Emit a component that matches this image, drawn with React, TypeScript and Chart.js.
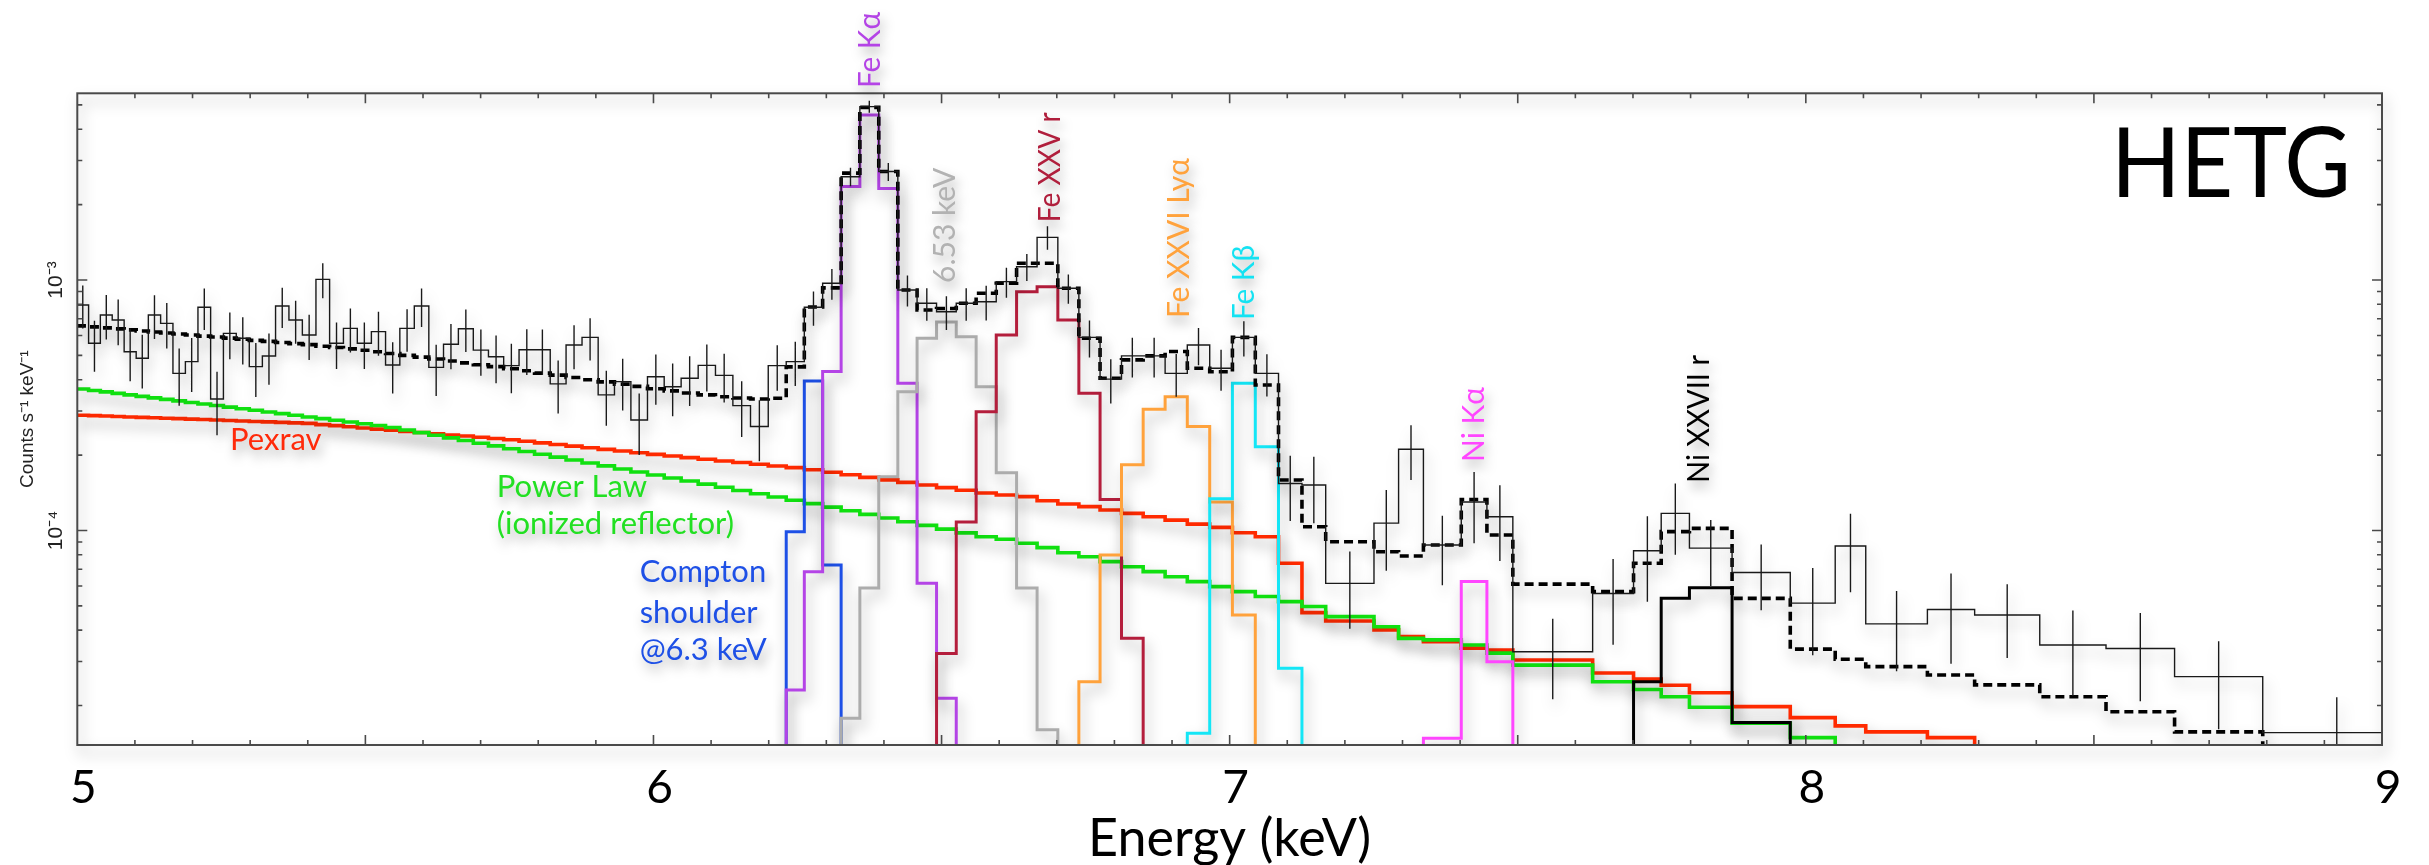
import React, { useEffect, useRef } from 'react';
import { Chart, registerables } from 'chart.js';

Chart.register(...registerables);

// ---------------- data ----------------
// bin edges in keV (HETG grid, 0.01 A below 7.13 keV, grouped above)
const binEdges = [
  4.9994, 5.0196, 5.04, 5.0606, 5.0813, 5.1022, 5.1233, 5.1446, 5.166, 5.1876,
  5.2094, 5.2314, 5.2536, 5.2759, 5.2985, 5.3212, 5.3441, 5.3673, 5.3906, 5.4142,
  5.4379, 5.4619, 5.486, 5.5104, 5.535, 5.5598, 5.5849, 5.6101, 5.6356, 5.6614,
  5.6873, 5.7136, 5.74, 5.7667, 5.7936, 5.8208, 5.8483, 5.876, 5.904, 5.9323,
  5.9608, 5.9896, 6.0186, 6.048, 6.0776, 6.1076, 6.1378, 6.1684, 6.1992, 6.2304,
  6.2618, 6.2936, 6.3257, 6.3582, 6.391, 6.4241, 6.4575, 6.4913, 6.5255, 6.56,
  6.5949, 6.6302, 6.6658, 6.7018, 6.7383, 6.7751, 6.8123, 6.8499, 6.888, 6.9265,
  6.9654, 7.0048, 7.0445, 7.0848, 7.1255, 7.1667, 7.2505, 7.2932, 7.3363, 7.402,
  7.4465, 7.4915, 7.63, 7.701, 7.749, 7.798, 7.872, 7.973, 8.051, 8.104,
  8.211, 8.293, 8.406, 8.521, 8.64, 8.793, 9.05,
];

// observed counts s^-1 keV^-1 per bin
const dataRate = [
  7.95e-4, 5.59e-4, 7.25e-4, 6.92e-4, 5.17e-4, 4.87e-4, 7.25e-4, 6.71e-4, 4.24e-4, 4.72e-4,
  7.78e-4, 3.35e-4, 6.12e-4, 5.85e-4, 4.51e-4, 4.97e-4, 7.87e-4, 6.92e-4, 6.03e-4, 1.006e-3,
  5.59e-4, 6.41e-4, 5.59e-4, 6.22e-4, 4.58e-4, 6.41e-4, 7.87e-4, 4.48e-4, 5.54e-4, 6.39e-4,
  5.25e-4, 4.94e-4, 4.55e-4, 5.27e-4, 5.27e-4, 3.85e-4, 5.5e-4, 5.9e-4, 3.48e-4, 3.93e-4,
  2.76e-4, 4.11e-4, 3.75e-4, 4.05e-4, 4.56e-4, 4.16e-4, 3.15e-4, 2.6e-4, 4.55e-4, 4.72e-4,
  7.78e-4, 9.7e-4, 2.585e-3, 4.92e-3, 2.71e-3, 9.12e-4, 8.07e-4, 7.47e-4, 8.07e-4, 8.19e-4,
  9.85e-4, 1.13e-3, 1.48e-3, 9.27e-4, 5.9e-4, 4.02e-4, 4.98e-4, 4.98e-4, 4.24e-4, 5.5e-4,
  4.44e-4, 5.9e-4, 4.24e-4, 1.54e-4, 1.52e-4, 6.15e-5, 1.07e-4, 2.11e-4, 8.75e-5, 1.3e-4,
  1.135e-4, 3.28e-5, 5.6e-5, 8.3e-5, 1.17e-4, 8.5e-5, 6.8e-5, 5.13e-5, 8.67e-5, 4.24e-5,
  4.84e-5, 4.6e-5, 3.49e-5, 3.38e-5, 2.61e-5, 1.56e-5,
];

// 1-sigma error per bin
const dataErr = [
  1.55e-4, 1.29e-4, 1.46e-4, 1.43e-4, 1.23e-4, 1.18e-4, 1.44e-4, 1.38e-4, 1.09e-4, 1.15e-4,
  1.46e-4, 9.5e-5, 1.29e-4, 1.25e-4, 1.1e-4, 1.15e-4, 1.44e-4, 1.35e-4, 1.24e-4, 1.61e-4,
  1.18e-4, 1.28e-4, 1.18e-4, 1.24e-4, 1.06e-4, 1.24e-4, 1.38e-4, 1.04e-4, 1.14e-4, 1.23e-4,
  1.1e-4, 1.07e-4, 1.02e-4, 1.09e-4, 1.08e-4, 9.2e-5, 1.1e-4, 1.13e-4, 8.6e-5, 9.2e-5,
  7.6e-5, 9.3e-5, 8.9e-5, 9.1e-5, 9.7e-5, 9.2e-5, 7.9e-5, 7.1e-5, 9.4e-5, 9.5e-5,
  1.22e-4, 1.36e-4, 2.2e-4, 2.7e-4, 2.23e-4, 1.29e-4, 1.2e-4, 1.15e-4, 1.2e-4, 1.3e-4,
  1.35e-4, 1.39e-4, 1.58e-4, 1.24e-4, 9.9e-5, 8.1e-5, 9.0e-5, 9.0e-5, 8.2e-5, 9.3e-5,
  8.3e-5, 9.5e-5, 8.1e-5, 4.5e-5, 4.5e-5, 2.1e-5, 3.8e-5, 5.2e-5, 2.7e-5, 4.1e-5,
  3.8e-5, 1.16e-5, 2.1e-5, 3.1e-5, 3.7e-5, 2.5e-5, 2.0e-5, 1.95e-5, 3.0e-5, 1.5e-5,
  1.9e-5, 1.5e-5, 1.3e-5, 1.3e-5, 1.0e-5, 6e-6,
];

// total model (dashed)
const modelTotal = [
  6.56e-4, 6.5e-4, 6.44e-4, 6.38e-4, 6.32e-4, 6.26e-4, 6.2e-4, 6.14e-4, 6.09e-4, 6.03e-4,
  5.97e-4, 5.92e-4, 5.86e-4, 5.8e-4, 5.74e-4, 5.69e-4, 5.63e-4, 5.57e-4, 5.52e-4, 5.44e-4,
  5.38e-4, 5.31e-4, 5.24e-4, 5.17e-4, 5.09e-4, 5.0e-4, 4.92e-4, 4.84e-4, 4.75e-4, 4.67e-4,
  4.59e-4, 4.51e-4, 4.42e-4, 4.34e-4, 4.25e-4, 4.17e-4, 4.08e-4, 4.0e-4, 3.92e-4, 3.84e-4,
  3.76e-4, 3.68e-4, 3.61e-4, 3.54e-4, 3.48e-4, 3.42e-4, 3.38e-4, 3.35e-4, 3.37e-4, 4.5e-4,
  7.8e-4, 9.3e-4, 2.67e-3, 4.89e-3, 2.71e-3, 9.12e-4, 7.59e-4, 7.7e-4, 8.07e-4, 8.85e-4,
  9.7e-4, 1.166e-3, 1.166e-3, 9.27e-4, 5.85e-4, 4.05e-4, 4.8e-4, 4.98e-4, 5.18e-4, 4.44e-4,
  4.3e-4, 5.9e-4, 3.81e-4, 1.59e-4, 1.035e-4, 9.02e-5, 8.23e-5, 7.91e-5, 8.75e-5, 1.33e-4,
  9.6e-5, 6.11e-5, 5.7e-5, 7.4e-5, 9.9e-5, 1.02e-4, 5.36e-5, 3.36e-5, 3.06e-5, 2.86e-5,
  2.65e-5, 2.42e-5, 2.17e-5, 1.89e-5, 1.57e-5,
];

// Pexrav continuum (red)
const pexrav = [
  2.885e-4, 2.874e-4, 2.863e-4, 2.851e-4, 2.84e-4, 2.829e-4, 2.818e-4, 2.806e-4, 2.795e-4, 2.783e-4,
  2.772e-4, 2.761e-4, 2.749e-4, 2.737e-4, 2.725e-4, 2.713e-4, 2.702e-4, 2.689e-4, 2.677e-4, 2.647e-4,
  2.621e-4, 2.594e-4, 2.567e-4, 2.54e-4, 2.514e-4, 2.487e-4, 2.461e-4, 2.434e-4, 2.407e-4, 2.382e-4,
  2.355e-4, 2.329e-4, 2.302e-4, 2.27e-4, 2.237e-4, 2.204e-4, 2.172e-4, 2.14e-4, 2.108e-4, 2.076e-4,
  2.044e-4, 2.013e-4, 1.982e-4, 1.953e-4, 1.924e-4, 1.895e-4, 1.867e-4, 1.838e-4, 1.81e-4, 1.782e-4,
  1.748e-4, 1.708e-4, 1.669e-4, 1.63e-4, 1.592e-4, 1.556e-4, 1.519e-4, 1.483e-4, 1.447e-4, 1.411e-4,
  1.386e-4, 1.365e-4, 1.315e-4, 1.275e-4, 1.245e-4, 1.207e-4, 1.17e-4, 1.135e-4, 1.1e-4, 1.06e-4,
  1.029e-4, 9.8e-5, 9.44e-5, 7.4e-5, 4.7e-5, 4.35e-5, 4.01e-5, 3.77e-5, 3.6e-5, 3.39e-5,
  3.33e-5, 3.04e-5, 2.7e-5, 2.55e-5, 2.41e-5, 2.25e-5, 1.98e-5, 1.79e-5, 1.66e-5, 1.57e-5,
  1.49e-5,
];

// Power law, ionized reflector (green)
const powerLaw = [
  3.672e-4, 3.623e-4, 3.575e-4, 3.527e-4, 3.479e-4, 3.431e-4, 3.384e-4, 3.338e-4, 3.291e-4, 3.245e-4,
  3.199e-4, 3.154e-4, 3.108e-4, 3.063e-4, 3.018e-4, 2.973e-4, 2.929e-4, 2.885e-4, 2.84e-4, 2.797e-4,
  2.754e-4, 2.711e-4, 2.669e-4, 2.626e-4, 2.578e-4, 2.517e-4, 2.459e-4, 2.401e-4, 2.343e-4, 2.287e-4,
  2.23e-4, 2.176e-4, 2.121e-4, 2.067e-4, 2.014e-4, 1.962e-4, 1.911e-4, 1.86e-4, 1.811e-4, 1.761e-4,
  1.713e-4, 1.666e-4, 1.62e-4, 1.575e-4, 1.531e-4, 1.487e-4, 1.444e-4, 1.402e-4, 1.361e-4, 1.32e-4,
  1.28e-4, 1.239e-4, 1.199e-4, 1.16e-4, 1.122e-4, 1.084e-4, 1.048e-4, 1.013e-4, 9.78e-5, 9.44e-5,
  9.22e-5, 8.89e-5, 8.54e-5, 8.15e-5, 7.86e-5, 7.51e-5, 7.17e-5, 6.85e-5, 6.54e-5, 6.25e-5,
  5.97e-5, 5.7e-5, 5.45e-5, 5.2e-5, 4.97e-5, 4.53e-5, 4.13e-5, 3.71e-5, 3.66e-5, 3.49e-5,
  3.24e-5, 2.9e-5, 2.49e-5, 2.32e-5, 2.17e-5, 1.97e-5, 1.7e-5, 1.49e-5,
];

// emission-line components: first bin index + values
const comptonStart = 49;
const comptonShoulder = [9.89e-5, 3.95e-4, 7.28e-5];
const feKaStart = 49;
const feKa = [2.31e-5, 6.85e-5, 4.31e-4, 2.36e-3, 4.56e-3, 2.32e-3, 3.87e-4, 6.15e-5, 2.14e-5];
const line653Start = 52;
const line653 = [1.78e-5, 5.9e-5, 1.64e-4, 3.58e-4, 5.85e-4, 6.8e-4, 5.94e-4, 3.75e-4, 1.7e-4, 5.9e-5, 1.6e-5];
const feXXVStart = 57;
const feXXV = [3.23e-5, 1.08e-4, 2.98e-4, 6.03e-4, 8.98e-4, 9.4e-4, 6.92e-4, 3.53e-4, 1.33e-4, 3.71e-5];
const feXXVIStart = 64;
const feXXVI = [2.49e-5, 7.98e-5, 1.83e-4, 3.05e-4, 3.42e-4, 2.6e-4, 1.3e-4, 4.6e-5];
const feKbStart = 69;
const feKb = [1.55e-5, 1.34e-4, 3.87e-4, 2.16e-4, 2.82e-5];
const niKaStart = 78;
const niKa = [1.48e-5, 6.25e-5, 2.99e-5];
const niXXVIIStart = 83;
const niXXVII = [2.49e-5, 5.36e-5, 5.91e-5, 1.71e-5];

const xTickValues = [5, 6, 7, 8, 9];
const xTickLabels = ['5', '6', '7', '8', '9'];
const yTickValues = [1e-4, 1e-3];
const yTickLabels = ['10\u207B\u2074', '10\u207B\u00B3'];

// ---------------- annotations ----------------
const rotatedLabels = [
  { text: 'Fe K\u03B1', x: 6.376, y: 5.84e-3, color: '#b444e6', width: 76 },
  { text: '6.53 keV', x: 6.506, y: 9.73e-4, color: '#b2b2b2', width: 116 },
  { text: 'Fe XXV r', x: 6.688, y: 1.7e-3, color: '#b01e3c', width: 110 },
  { text: 'Fe XXVI Ly\u03B1', x: 6.912, y: 7.05e-4, color: '#ffa23c', width: 160 },
  { text: 'Fe K\u03B2', x: 7.026, y: 6.92e-4, color: '#14e2f2', width: 75 },
  { text: 'Ni K\u03B1', x: 7.424, y: 1.877e-4, color: '#ff46ff', width: 75 },
  { text: 'Ni XXVII r', x: 7.816, y: 1.547e-4, color: '#000000', width: 128 },
];
const flatLabels = [
  { text: 'Pexrav', x: 5.265, y: 2.1e-4, color: '#ff2a0a' },
  { text: 'Power Law', x: 5.728, y: 1.36e-4, color: '#22e022' },
  { text: '(ionized reflector)', x: 5.728, y: 9.68e-5, color: '#22e022' },
  { text: 'Compton', x: 5.976, y: 6.23e-5, color: '#1e50e6' },
  { text: 'shoulder', x: 5.976, y: 4.27e-5, color: '#1e50e6' },
  { text: '@6.3 keV', x: 5.976, y: 3.04e-5, color: '#1e50e6' },
];

const FLOOR = 1e-8;
type Pt = { x: number; y: number | null };

function histogram(vals: number[], start: number, rise: boolean, drop: boolean): Pt[] {
  const pts: Pt[] = [];
  if (rise) pts.push({ x: binEdges[start], y: FLOOR });
  vals.forEach((v, i) => pts.push({ x: binEdges[start + i], y: v }));
  pts.push({ x: binEdges[start + vals.length], y: drop ? FLOOR : vals[vals.length - 1] });
  return pts;
}

function errorBars(): Pt[] {
  const pts: Pt[] = [];
  dataRate.forEach((v, i) => {
    const c = (binEdges[i] + binEdges[i + 1]) / 2;
    pts.push({ x: c, y: v - dataErr[i] }, { x: c, y: v + dataErr[i] }, { x: c, y: null });
  });
  return pts;
}

const SHADOW = 'rgba(0,0,0,0.34)';

const shadowPlugin = {
  id: 'softShadow',
  beforeDatasetsDraw(chart: any) {
    const ctx = chart.ctx;
    ctx.save();
    ctx.shadowColor = SHADOW;
    ctx.shadowBlur = 14;
    ctx.shadowOffsetX = 3;
    ctx.shadowOffsetY = 8;
  },
  afterDatasetsDraw(chart: any) {
    chart.ctx.restore();
  },
};

const framePlugin = {
  id: 'frame',
  afterDatasetsDraw(chart: any) {
    const { ctx, chartArea: a, scales } = chart;
    const xs = scales.x;
    const ys = scales.y;
    ctx.save();
    ctx.shadowColor = SHADOW;
    ctx.shadowBlur = 14;
    ctx.shadowOffsetX = 3;
    ctx.shadowOffsetY = 8;
    ctx.strokeStyle = '#4a4a4a';
    ctx.lineWidth = 2;
    ctx.strokeRect(a.left, a.top, a.right - a.left, a.bottom - a.top);
    ctx.shadowColor = 'rgba(0,0,0,0)';
    ctx.lineWidth = 1.6;
    ctx.beginPath();
    for (let k = 1; k < 40; k++) {
      const t = 5 + k / 10;
      const px = xs.getPixelForValue(t);
      const len = k % 5 === 0 ? 10 : 5;
      ctx.moveTo(px, a.bottom);
      ctx.lineTo(px, a.bottom - len);
      ctx.moveTo(px, a.top);
      ctx.lineTo(px, a.top + len);
    }
    for (const d of [1e-5, 1e-4, 1e-3]) {
      for (let m = 1; m <= 9; m++) {
        const v = m * d;
        if (v <= ys.min || v >= ys.max) continue;
        const py = ys.getPixelForValue(v);
        const len = m === 1 ? 10 : 5;
        ctx.moveTo(a.left, py);
        ctx.lineTo(a.left + len, py);
        ctx.moveTo(a.right, py);
        ctx.lineTo(a.right - len, py);
      }
    }
    ctx.stroke();
    ctx.restore();
  },
};

const labelsPlugin = {
  id: 'lineLabels',
  afterDraw(chart: any) {
    const { ctx, scales } = chart;
    const xs = scales.x;
    const ys = scales.y;
    ctx.save();
    ctx.shadowColor = SHADOW;
    ctx.shadowBlur = 12;
    ctx.shadowOffsetX = 3;
    ctx.shadowOffsetY = 7;
    for (const l of rotatedLabels) {
      const px = xs.getPixelForValue(l.x);
      const py = ys.getPixelForValue(l.y);
      ctx.save();
      ctx.translate(px, py);
      ctx.rotate(-Math.PI / 2);
      ctx.font = '30px Lato';
      ctx.fillStyle = l.color;
      ctx.textAlign = 'left';
      ctx.textBaseline = 'middle';
      ctx.fillText(l.text, 0, 0, l.width);
      ctx.restore();
    }
    ctx.font = '31px Lato';
    ctx.textAlign = 'left';
    ctx.textBaseline = 'alphabetic';
    for (const l of flatLabels) {
      ctx.fillStyle = l.color;
      ctx.fillText(l.text, xs.getPixelForValue(l.x), ys.getPixelForValue(l.y));
    }
    ctx.restore();
    ctx.save();
    ctx.font = '96px Lato';
    ctx.fillStyle = '#000';
    ctx.textAlign = 'right';
    ctx.textBaseline = 'alphabetic';
    ctx.fillText('HETG', xs.getPixelForValue(8.946), ys.getPixelForValue(2.14e-3), 240);
    ctx.restore();
  },
};

export default function App() {
  const ref = useRef<HTMLCanvasElement | null>(null);

  useEffect(() => {
    if (!ref.current) return;
    const base = { pointRadius: 0, pointHoverRadius: 0, fill: false, tension: 0 };
    const comp = (label: string, vals: number[], start: number, color: string) => ({
      ...base,
      label,
      data: histogram(vals, start, true, true),
      borderColor: color,
      borderWidth: 3,
      stepped: 'before' as const,
    });
    const chart = new Chart(ref.current, {
      type: 'line',
      data: {
        datasets: [
          { ...base, label: 'Data errors', data: errorBars(), borderColor: '#1a1a1a', borderWidth: 1.4, spanGaps: false },
          { ...base, label: 'Data', data: histogram(dataRate, 0, false, false), borderColor: '#1a1a1a', borderWidth: 1.4, stepped: 'before' },
          { ...base, label: 'Model', data: histogram(modelTotal, 0, false, true), borderColor: '#000', borderWidth: 3.6, borderDash: [9, 5], stepped: 'before' },
          comp('Ni XXVII r', niXXVII, niXXVIIStart, '#000000'),
          comp('Ni K\u03B1', niKa, niKaStart, '#ff46ff'),
          comp('Fe K\u03B2', feKb, feKbStart, '#14e6f6'),
          comp('Fe XXVI Ly\u03B1', feXXVI, feXXVIStart, '#ffa23c'),
          comp('Fe XXV r', feXXV, feXXVStart, '#b41e3c'),
          comp('6.53 keV', line653, line653Start, '#acacac'),
          comp('Fe K\u03B1', feKa, feKaStart, '#b444e6'),
          comp('Compton shoulder', comptonShoulder, comptonStart, '#1e50e6'),
          { ...base, label: 'Power Law', data: histogram(powerLaw, 0, false, true), borderColor: '#10e010', borderWidth: 3.6, stepped: 'before' },
          { ...base, label: 'Pexrav', data: histogram(pexrav, 0, false, true), borderColor: '#ff2a00', borderWidth: 3.6, stepped: 'before' },
        ] as any,
      },
      options: {
        animation: false,
        responsive: false,
        devicePixelRatio: 1,
        events: [],
        layout: { padding: { left: 0, top: 93.3, right: 47, bottom: 0 } },
        plugins: { legend: { display: false }, tooltip: { enabled: false } },
        scales: {
          x: {
            type: 'linear',
            min: 5,
            max: 9,
            afterBuildTicks: (s: any) => {
              s.ticks = xTickValues.map((v) => ({ value: v }));
            },
            afterFit: (s: any) => {
              s.height = 120;
            },
            grid: { display: false, drawTicks: false },
            border: { display: false },
            ticks: {
              callback: (_v: any, i: number) => xTickLabels[i],
              font: { family: 'Lato', size: 46 },
              color: '#000',
              padding: 16,
              labelOffset: 6,
              maxRotation: 0,
              minRotation: 0,
              autoSkip: false,
            },
            title: {
              display: true,
              text: 'Energy (keV)',
              font: { family: 'Lato', size: 52, lineHeight: 1 },
              color: '#000',
              padding: 0,
            },
          },
          y: {
            type: 'logarithmic',
            min: 1.392e-5,
            max: 5.563e-3,
            afterBuildTicks: (s: any) => {
              s.ticks = yTickValues.map((v) => ({ value: v }));
            },
            afterFit: (s: any) => {
              s.width = 77.3;
            },
            grid: { display: false, drawTicks: false },
            border: { display: false },
            ticks: {
              callback: (_v: any, i: number) => yTickLabels[i],
              font: { family: 'Liberation Sans', size: 21 },
              color: '#222',
              padding: 1,
              minRotation: 90,
              maxRotation: 90,
              crossAlign: 'center',
              autoSkip: false,
            },
            title: {
              display: true,
              text: 'Counts s\u207B\u00B9 keV\u207B\u00B9',
              font: { family: 'Liberation Sans', size: 19 },
              color: '#222',
              padding: { top: 16, bottom: 0 },
            },
          },
        },
      } as any,
      plugins: [shadowPlugin, framePlugin, labelsPlugin],
    });
    return () => chart.destroy();
  }, []);

  return (
    <div style={{ position: 'absolute', left: 0, top: 0, width: 2429, height: 865, background: '#fff' }}>
      <canvas ref={ref} width={2429} height={865} style={{ display: 'block', width: 2429, height: 865 }} />
    </div>
  );
}
